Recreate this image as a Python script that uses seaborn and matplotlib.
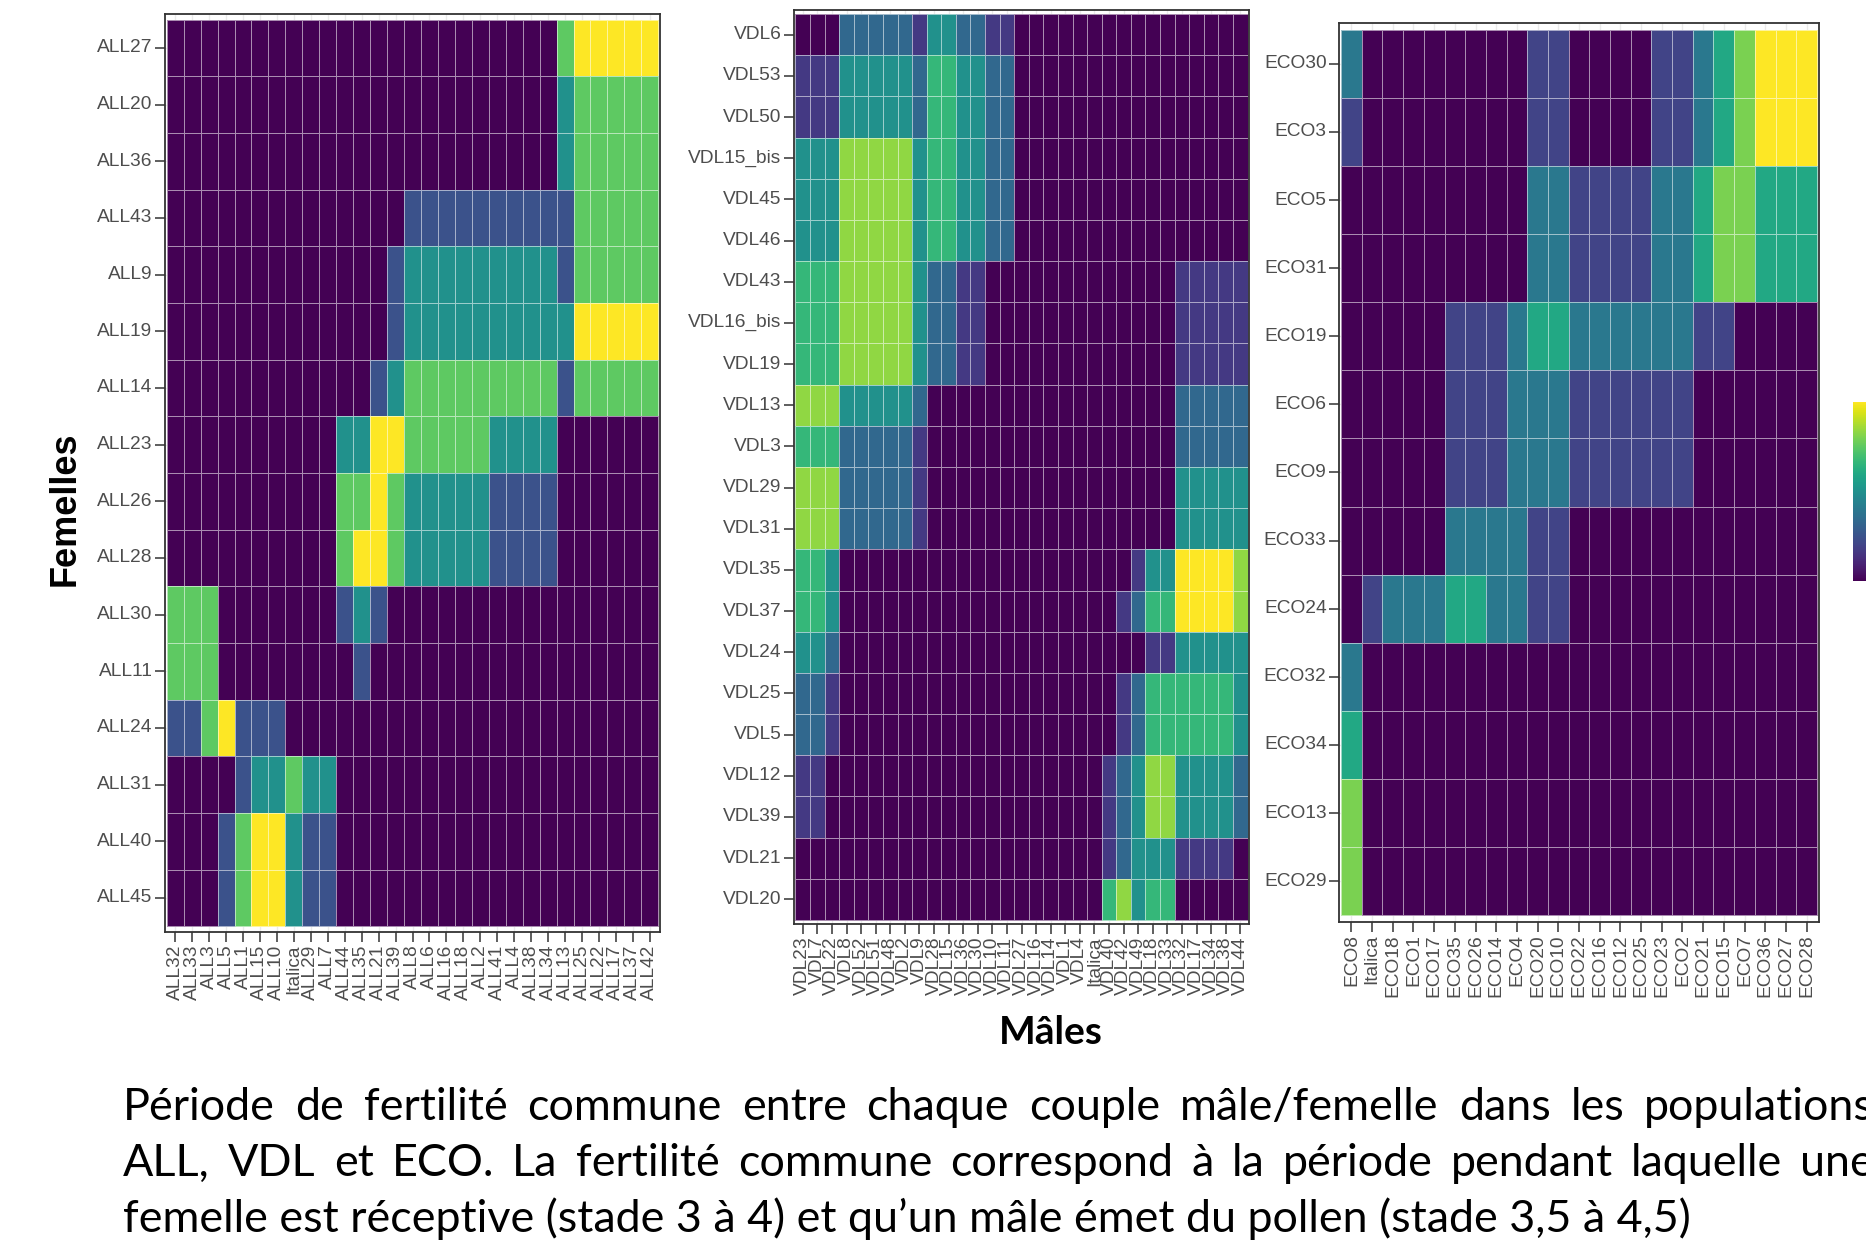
import numpy as np
import pandas as pd
import matplotlib
matplotlib.use("Agg")
import matplotlib.pyplot as plt
import seaborn as sns

sns.set_theme(style="white")
plt.rcParams['font.family'] = ['Liberation Sans', 'DejaVu Sans']

# ---------------- data ----------------
all_females = ["ALL27", "ALL20", "ALL36", "ALL43", "ALL9", "ALL19", "ALL14", "ALL23",
               "ALL26", "ALL28", "ALL30", "ALL11", "ALL24", "ALL31", "ALL40", "ALL45"]
all_males = ["ALL32", "ALL33", "ALL3", "ALL5", "ALL1", "ALL15", "ALL10", "Italica", "ALL29",
             "ALL7", "ALL44", "ALL35", "ALL21", "ALL39", "ALL8", "ALL6", "ALL16", "ALL18",
             "ALL2", "ALL41", "ALL4", "ALL38", "ALL34", "ALL13", "ALL25", "ALL22", "ALL17",
             "ALL37", "ALL42"]
all_values = [
    "00000000000000000000000344444",
    "00000000000000000000000233333",
    "00000000000000000000000233333",
    "00000000000000111111111133333",
    "00000000000001222222222133333",
    "00000000000001222222222244444",
    "00000000000012333333333133333",
    "00000000002244333332222000000",
    "00000000003343222221111000000",
    "00000000003443222221111000000",
    "33300000001210000000000000000",
    "33300000000100000000000000000",
    "11341110000000000000000000000",
    "00001223220000000000000000000",
    "00013442110000000000000000000",
    "00013442110000000000000000000",
]

vdl_females = ["VDL6", "VDL53", "VDL50", "VDL15_bis", "VDL45", "VDL46", "VDL43", "VDL16_bis",
               "VDL19", "VDL13", "VDL3", "VDL29", "VDL31", "VDL35", "VDL37", "VDL24", "VDL25",
               "VDL5", "VDL12", "VDL39", "VDL21", "VDL20"]
vdl_males = ["VDL23", "VDL7", "VDL22", "VDL8", "VDL52", "VDL51", "VDL48", "VDL2", "VDL9",
             "VDL28", "VDL15", "VDL36", "VDL30", "VDL10", "VDL11", "VDL27", "VDL16", "VDL14",
             "VDL1", "VDL4", "Italica", "VDL40", "VDL42", "VDL49", "VDL18", "VDL33", "VDL32",
             "VDL17", "VDL34", "VDL38", "VDL44"]
vdl_values = [
    "0002222213322110000000000000000",
    "1113333324433220000000000000000",
    "1113333324433220000000000000000",
    "3335555534433220000000000000000",
    "3335555534433220000000000000000",
    "3335555534433220000000000000000",
    "4445555532211000000000000011111",
    "4445555532211000000000000011111",
    "4445555532211000000000000011111",
    "5553333320000000000000000022222",
    "4442222210000000000000000022222",
    "5552222210000000000000000033333",
    "5552222210000000000000000033333",
    "4430000000000000000000013366665",
    "4430000000000000000000124466665",
    "3320000000000000000000001133333",
    "2210000000000000000000124444443",
    "2210000000000000000000124444443",
    "1100000000000000000001235533332",
    "1100000000000000000001235533332",
    "0000000000000000000001233311110",
    "0000000000000000000004534400000",
]

eco_females = ["ECO30", "ECO3", "ECO5", "ECO31", "ECO19", "ECO6", "ECO9", "ECO33", "ECO24",
               "ECO32", "ECO34", "ECO13", "ECO29"]
eco_males = ["ECO8", "Italica", "ECO18", "ECO1", "ECO17", "ECO35", "ECO26", "ECO14", "ECO4",
             "ECO20", "ECO10", "ECO22", "ECO16", "ECO12", "ECO25", "ECO23", "ECO2", "ECO21",
             "ECO15", "ECO7", "ECO36", "ECO27", "ECO28"]
eco_values = [
    "20000000011000011234555",
    "10000000011000011234555",
    "00000000022111122344333",
    "00000000022111122344333",
    "00000111233222222110000",
    "00000111222111111000000",
    "00000111222111111000000",
    "00000222211000000000000",
    "01222332211000000000000",
    "20000000000000000000000",
    "30000000000000000000000",
    "40000000000000000000000",
    "40000000000000000000000",
]

caption_lines = [
    "Période de fertilité commune entre chaque couple mâle/femelle dans les populations",
    "ALL, VDL et ECO. La fertilité commune correspond à la période pendant laquelle une",
    "femelle est réceptive (stade 3 à 4) et qu’un mâle émet du pollen (stade 3,5 à 4,5)",
]

# ---------------- figure ----------------
W, H = 1866, 1249
fig = plt.figure(figsize=(W / 100, H / 100), dpi=100)
fig.patch.set_facecolor("white")


def rect(l, r, t, b):
    return [l / W, 1 - b / H, (r - l) / W, (b - t) / H]


def panel(ax, rows, cols, vals, cbar_ax=None):
    mat = np.array([[int(c) for c in r] for r in vals])
    df = pd.DataFrame(mat, index=rows, columns=cols)
    sns.heatmap(df, ax=ax, cmap="viridis", vmin=0, vmax=int(mat.max()),
                linewidths=0.7, linecolor=(1, 1, 1, 0.55),
                cbar=cbar_ax is not None, cbar_ax=cbar_ax,
                xticklabels=True, yticklabels=True)
    n_r, n_c = df.shape
    ax.set_xlim(-0.1, n_c + 0.1)
    ax.set_ylim(n_r + 0.1, -0.1)
    ax.set_facecolor("white")
    ax.set_axisbelow(True)
    ax.grid(True, color="#EBEBEB", lw=1.0)
    for s in ax.spines.values():
        s.set_visible(True)
        s.set_color("#333333")
        s.set_linewidth(1.3)
    ax.set_xlabel("")
    ax.set_ylabel("")
    ax.tick_params(axis="both", length=7, width=1.1, color="#333333",
                   labelcolor="#4D4D4D", labelsize=13.8, pad=2,
                   bottom=True, left=True)
    ax.set_xticklabels(cols, rotation=90, ha="center", va="top")
    ax.set_yticklabels(rows, rotation=0, ha="right", va="center")
    for t in ax.get_xticklabels() + ax.get_yticklabels():
        t.set_fontfamily(["Liberation Sans", "DejaVu Sans"])


ax1 = fig.add_axes(rect(165, 660, 14, 932))
ax2 = fig.add_axes(rect(794, 1249, 10, 924))
ax3 = fig.add_axes(rect(1339, 1819, 23, 922))
cax = fig.add_axes(rect(1853, 1883, 402, 581))

panel(ax1, all_females, all_males, all_values)
panel(ax2, vdl_females, vdl_males, vdl_values)
panel(ax3, eco_females, eco_males, eco_values, cbar_ax=cax)

cb = ax3.collections[0].colorbar
cb.outline.set_visible(False)
cb.set_ticks([0, 1, 2, 3, 4, 5])
cax.tick_params(direction="in", color="white", length=5, width=1.2,
                left=True, right=True, labelright=False, labelleft=False)

# axis titles
fig.text(65 / W, 1 - 509 / H, "Femelles", rotation=90, ha="center", va="center",
         fontsize=26, fontweight="bold", family=["Liberation Sans", "DejaVu Sans"],
         color="black")
fig.text(1051 / W, 1 - 1033 / H, "Mâles", ha="center", va="center",
         fontsize=28, fontweight="bold", family=["Lato", "DejaVu Sans"], color="black")

# caption (justified lines)
fig.canvas.draw()
renderer = fig.canvas.get_renderer()
fam = ["Lato", "DejaVu Sans"]
probe = fig.text(0, 0, caption_lines[2], fontsize=30, family=fam)
w3 = probe.get_window_extent(renderer=renderer).width
probe.remove()
fs = 30 * (1690 - 123) / w3

x_left, x_right = 123, 1874
baselines = [1120, 1176, 1232]
for i, line in enumerate(caption_lines):
    y = 1 - baselines[i] / H
    if i < 2:
        words = line.split(" ")
        txts = [fig.text(0, y, wd, fontsize=fs, family=fam, va="baseline", ha="left",
                         color="black") for wd in words]
        widths = [t.get_window_extent(renderer=renderer).width for t in txts]
        gap = (x_right - x_left - sum(widths)) / (len(words) - 1)
        x = x_left
        for t, wdt in zip(txts, widths):
            t.set_x(x / W)
            x += wdt + gap
    else:
        fig.text(x_left / W, y, line, fontsize=fs, family=fam, va="baseline",
                 ha="left", color="black")

fig.savefig("out.png", dpi=100, facecolor="white")
